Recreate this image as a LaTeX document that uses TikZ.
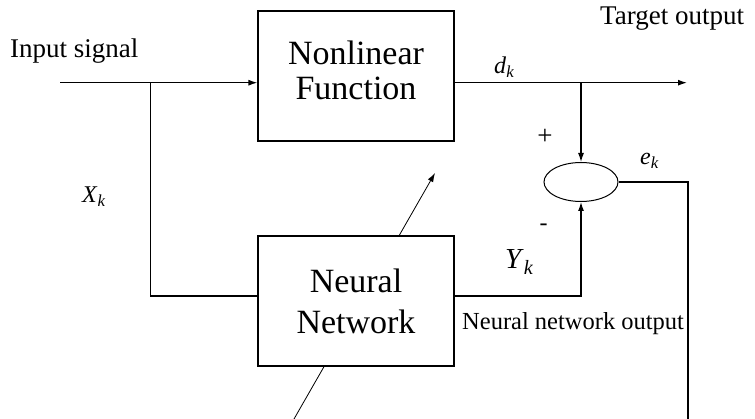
\documentclass[tikz,border=0pt]{standalone}
\usepackage{fontspec}
\setmainfont{Liberation Serif}
\usetikzlibrary{arrows.meta,shapes.geometric,positioning}
\newcommand{\sig}[2]{\textit{#1}\textsubscript{\textit{#2}}}

\begin{document}
\begin{tikzpicture}[x=1pt, y=-1pt]
		\tikzstyle{every node}=[font=\fontsize{27}{31}\selectfont, inner sep=0pt]
		\tikzstyle{block}=[draw, line width=1.2pt, fill=white, minimum width=196pt, minimum height=130pt, align=center]
		\tikzstyle{wire}=[line width=1.2pt]
		\tikzstyle{tip}=[-{Latex[length=9pt, width=6pt]}]
		\useasboundingbox (0,0) rectangle (755,419);
		% signal points
		\coordinate (inp) at (60,82.7);
		\coordinate (split) at (150.5,82.7);
		\coordinate (dk) at (581,82.7);
		\coordinate (tgt) at (687,82.7);
		\coordinate (err) at (688,419);
		\coordinate (adapt0) at (294,419);
		\coordinate (adapt1) at (435,173);
		% adaptation arrow, partly hidden behind the network box
		\draw [line width=0.8pt, tip] (adapt0) -- (adapt1);
		\node [block, font=\fontsize{34}{35}\selectfont] (nlf) at (356,76) {Nonlinear\\Function\rule[-12pt]{0pt}{0pt}};
		\node [block, font=\fontsize{34}{41}\selectfont] (nnet) at (356,301) {Neural\\Network};
		\node [draw, ellipse, line width=1pt, minimum width=74pt, minimum height=39pt] (sum) at (581,182) {};
		\draw [wire, tip] (inp) -- (inp -| nlf.west);
		\draw [wire] (split) |- ([yshift=5pt]nnet.west);
		\draw [wire, tip] (nlf.east |- inp) -- (tgt);
		\draw [wire, tip] (dk) -- (sum.north);
		\draw [wire, tip] ([yshift=5pt]nnet.east) -| (sum.south);
		\draw [wire] (sum.east) -| (err);
		% labels
		\node [anchor=base west] (insig) at (10,58) {Input signal};
		\node [anchor=base west] (tgtout) at (600,25) {Target output};
		\node [anchor=base west, font=\fontsize{24.5}{28}\selectfont] (nnout) at (462,330) {Neural network output};
		\node [anchor=base west, font=\fontsize{24}{26}\selectfont] (dklab) at (494,74) {\sig{d}{k}};
		\node [anchor=base west, font=\fontsize{24}{26}\selectfont] (xklab) at (82,203) {\sig{X}{k}};
		\node [anchor=base west, font=\fontsize{29}{30}\selectfont] (yklab) at (505,269) {\sig{Y}{k}};
		\node [anchor=base west, font=\fontsize{24}{26}\selectfont] (eklab) at (640,165) {\sig{e}{k}};
		\node (plus) at (545,137) {+};
		\node [font=\fontsize{24}{28}\selectfont] (minus) at (543.5,227) {-};
	\end{tikzpicture}
\end{document}
